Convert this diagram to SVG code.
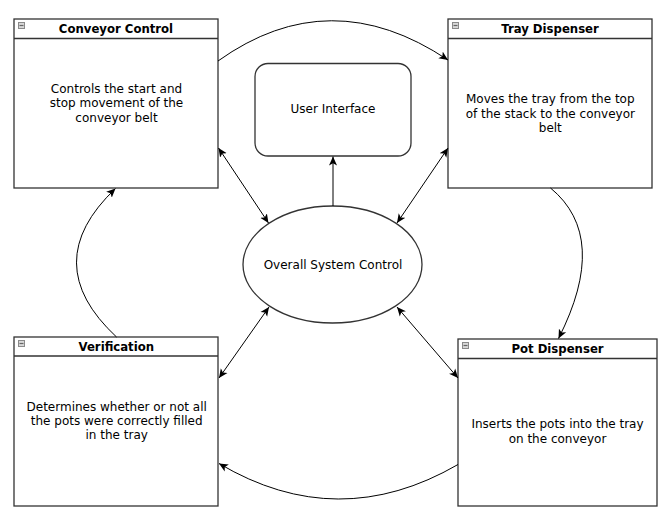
<svg xmlns="http://www.w3.org/2000/svg" width="672" height="528" viewBox="0 0 672 528">
  <style>
    .box { fill: #ffffff; stroke: #333333; stroke-width: 1.3; }
    .hdr { stroke: #333333; stroke-width: 1.3; }
    .title { font-family: "DejaVu Sans", Verdana, sans-serif; font-size: 11.7px; font-weight: bold; fill: #000000; text-anchor: middle; }
    .body { font-family: "DejaVu Sans", Verdana, sans-serif; font-size: 12px; fill: #000000; text-anchor: middle; }
    .icon { fill: #d8d8d8; stroke: #8a8a8a; stroke-width: 1; }
    .iconbar { stroke: #666666; stroke-width: 1.2; }
    .conn { fill: none; stroke: #000000; stroke-width: 1; }
  </style>
  <defs>
    <marker id="arr" viewBox="0 0 10 10" refX="10" refY="5" markerWidth="9" markerHeight="9" markerUnits="userSpaceOnUse" orient="auto-start-reverse">
      <path d="M0,0.5 L10,5 L0,9.5 L2.5,5 z" fill="#000000"/>
    </marker>
  </defs>
  <rect width="672" height="528" fill="#ffffff"/>

  <g id="conveyor-control">
    <rect class="box" x="14" y="19" width="204" height="169"/>
    <line class="hdr" x1="14" y1="38.5" x2="218" y2="38.5"/>
    <rect class="icon" x="18.5" y="22.5" width="6" height="6"/>
    <line class="iconbar" x1="19.5" y1="25.5" x2="23.5" y2="25.5"/>
    <text class="title" x="116" y="32.5">Conveyor Control</text>
    <text class="body" x="116.5" y="92.5">Controls the start and</text>
    <text class="body" x="116.5" y="107">stop movement of the</text>
    <text class="body" x="116.5" y="121.5">conveyor belt</text>
  </g>

  <g id="tray-dispenser">
    <rect class="box" x="448" y="19" width="204" height="169"/>
    <line class="hdr" x1="448" y1="38.5" x2="652" y2="38.5"/>
    <rect class="icon" x="452.5" y="22.5" width="6" height="6"/>
    <line class="iconbar" x1="453.5" y1="25.5" x2="457.5" y2="25.5"/>
    <text class="title" x="550" y="32.5">Tray Dispenser</text>
    <text class="body" x="550.3" y="102.5">Moves the tray from the top</text>
    <text class="body" x="550.3" y="117.5">of the stack to the conveyor</text>
    <text class="body" x="550.3" y="131.5">belt</text>
  </g>

  <g id="verification">
    <rect class="box" x="14" y="337" width="204" height="169"/>
    <line class="hdr" x1="14" y1="356" x2="218" y2="356"/>
    <rect class="icon" x="18.5" y="340.5" width="6" height="6"/>
    <line class="iconbar" x1="19.5" y1="343.5" x2="23.5" y2="343.5"/>
    <text class="title" x="116.3" y="351">Verification</text>
    <text class="body" x="116.7" y="410.5">Determines whether or not all</text>
    <text class="body" x="116.7" y="424.5">the pots were correctly filled</text>
    <text class="body" x="116.7" y="438.5">in the tray</text>
  </g>

  <g id="pot-dispenser">
    <rect class="box" x="458" y="339" width="199" height="167"/>
    <line class="hdr" x1="458" y1="358.5" x2="657" y2="358.5"/>
    <rect class="icon" x="462.5" y="342.5" width="6" height="6"/>
    <line class="iconbar" x1="463.5" y1="345.5" x2="467.5" y2="345.5"/>
    <text class="title" x="557.5" y="352.5">Pot Dispenser</text>
    <text class="body" x="557.5" y="427.5">Inserts the pots into the tray</text>
    <text class="body" x="557.5" y="442.5">on the conveyor</text>
  </g>

  <g id="user-interface">
    <rect class="box" x="255" y="63.5" width="156" height="92.5" rx="13" ry="13"/>
    <text class="body" x="333" y="113">User Interface</text>
  </g>

  <g id="overall-system-control">
    <ellipse class="box" cx="332.5" cy="264.5" rx="89.5" ry="58.5"/>
    <text class="body" x="333" y="268.5">Overall System Control</text>
  </g>

  <g id="connectors">
    <path class="conn" d="M218,61 Q330,-19 448,60" marker-end="url(#arr)"/>
    <path class="conn" d="M550.5,188 Q610,237 558.5,338.5" marker-end="url(#arr)"/>
    <path class="conn" d="M458,464.5 Q338,534 219,463.5" marker-end="url(#arr)"/>
    <path class="conn" d="M116.5,337 Q37,263 115.5,188.5" marker-end="url(#arr)"/>
    <line class="conn" x1="333" y1="206" x2="333" y2="156.5" stroke="#444444" marker-end="url(#arr)"/>
    <line class="conn" x1="218.5" y1="148" x2="268.5" y2="223" marker-start="url(#arr)" marker-end="url(#arr)"/>
    <line class="conn" x1="448" y1="148" x2="397" y2="223" marker-start="url(#arr)" marker-end="url(#arr)"/>
    <line class="conn" x1="269" y1="307" x2="219" y2="378" marker-start="url(#arr)" marker-end="url(#arr)"/>
    <line class="conn" x1="397" y1="307" x2="458" y2="378" marker-start="url(#arr)" marker-end="url(#arr)"/>
  </g>
</svg>
